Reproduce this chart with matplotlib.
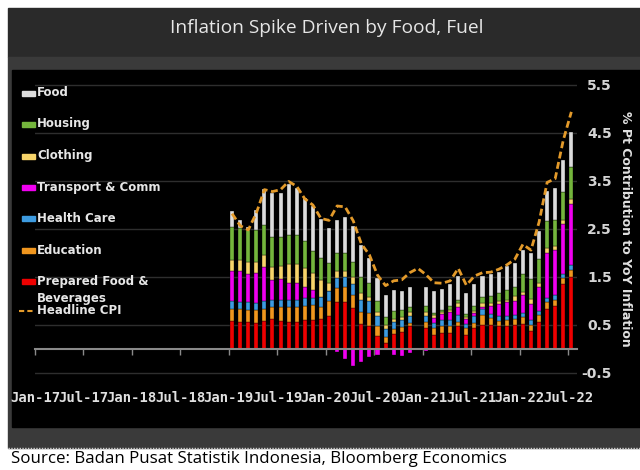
import numpy as np
import pandas as pd
import matplotlib
matplotlib.use('Agg')
import matplotlib.pyplot as plt
from matplotlib.patches import Rectangle
from matplotlib.lines import Line2D

nan = np.nan

# monthly data, Jan-19 .. Jul-22 (Dec-20 bar missing in the source)
months = pd.date_range('2019-01-01', '2022-07-01', freq='MS')

prepared = [0.58, 0.57, 0.57, 0.55, 0.58, 0.62, 0.58, 0.57, 0.57, 0.60, 0.60, 0.62,
            0.69, 0.97, 0.98, 0.85, 0.53, 0.47, 0.27, 0.13, 0.31, 0.36, 0.47, nan,
            0.43, 0.29, 0.34, 0.34, 0.47, 0.29, 0.43, 0.51, 0.50, 0.48, 0.47, 0.50,
            0.53, 0.38, 0.57, 0.83, 0.90, 1.35, 1.51]
education = [0.25, 0.26, 0.24, 0.26, 0.26, 0.26, 0.30, 0.31, 0.31, 0.30, 0.31, 0.26,
             0.30, 0.30, 0.32, 0.28, 0.24, 0.29, 0.21, 0.13, 0.10, 0.10, 0.08, nan,
             0.13, 0.14, 0.13, 0.14, 0.10, 0.14, 0.12, 0.19, 0.14, 0.11, 0.13, 0.12,
             0.13, 0.13, 0.14, 0.14, 0.13, 0.12, 0.14]
health = [0.17, 0.15, 0.17, 0.15, 0.17, 0.15, 0.15, 0.15, 0.15, 0.17, 0.15, 0.21,
          0.21, 0.21, 0.19, 0.22, 0.26, 0.23, 0.21, 0.15, 0.15, 0.14, 0.14, nan,
          0.12, 0.12, 0.13, 0.13, 0.14, 0.10, 0.13, 0.14, 0.08, 0.10, 0.08, 0.09,
          0.08, 0.10, 0.09, 0.09, 0.10, 0.10, 0.10]
transport = [0.62, 0.64, 0.59, 0.63, 0.70, 0.40, 0.42, 0.35, 0.35, 0.23, 0.16, 0.0,
             0.0, -0.06, -0.21, -0.35, -0.27, -0.16, -0.12, -0.03, -0.12, -0.15, -0.09, nan,
             -0.05, 0.09, 0.12, 0.17, 0.17, 0.10, 0.06, 0.04, 0.17, 0.25, 0.29, 0.28,
             0.38, 0.32, 0.49, 0.95, 0.94, 1.04, 1.28]
clothing = [0.24, 0.24, 0.24, 0.23, 0.24, 0.28, 0.28, 0.39, 0.39, 0.38, 0.36, 0.35,
            0.17, 0.14, 0.14, 0.16, 0.13, 0.10, 0.09, 0.09, 0.07, 0.07, 0.09, nan,
            0.10, 0.07, 0.05, 0.04, 0.07, 0.04, 0.05, 0.07, 0.07, 0.07, 0.06, 0.12,
            0.07, 0.12, 0.08, 0.09, 0.07, 0.08, 0.10]
housing = [0.68, 0.66, 0.66, 0.66, 0.63, 0.63, 0.61, 0.60, 0.60, 0.56, 0.46, 0.45,
           0.42, 0.38, 0.38, 0.31, 0.33, 0.28, 0.21, 0.17, 0.16, 0.14, 0.10, nan,
           0.12, 0.04, 0.04, 0.07, 0.07, 0.06, 0.10, 0.14, 0.14, 0.15, 0.19, 0.19,
           0.38, 0.40, 0.50, 0.56, 0.54, 0.58, 0.66]
food = [0.33, 0.17, 0.07, 0.42, 0.75, 0.90, 0.92, 1.06, 0.99, 0.90, 0.93, 0.81,
        0.73, 0.69, 0.75, 0.74, 0.67, 0.52, 0.49, 0.45, 0.44, 0.40, 0.42, nan,
        0.39, 0.45, 0.43, 0.47, 0.50, 0.44, 0.47, 0.44, 0.47, 0.45, 0.50, 0.50,
        0.49, 0.54, 0.58, 0.64, 0.67, 0.66, 0.73]
cpi = [2.82, 2.57, 2.48, 2.83, 3.32, 3.28, 3.32, 3.49, 3.39, 3.13, 3.00, 2.72,
       2.68, 2.98, 2.96, 2.67, 2.19, 1.96, 1.54, 1.32, 1.42, 1.44, 1.59, 1.68,
       1.55, 1.38, 1.37, 1.42, 1.68, 1.33, 1.52, 1.59, 1.60, 1.66, 1.75, 1.87,
       2.18, 2.06, 2.64, 3.47, 3.55, 4.35, 4.94]

# bottom to top
series = [
    ('Prepared Food &\nBeverages', prepared, '#ee0000'),
    ('Education', education, '#f0961e'),
    ('Health Care', health, '#3d9be0'),
    ('Transport & Comm', transport, '#f000f0'),
    ('Clothing', clothing, '#f7d46a'),
    ('Housing', housing, '#74b53c'),
    ('Food', food, '#dcdcdc'),
]
cpi_color = '#e39a2a'

tick_dates = pd.date_range('2017-01-01', '2022-07-01', freq='6MS')
tick_labels = [d.strftime('%b-%y') for d in tick_dates]
y_ticks = [-0.5, 0.5, 1.5, 2.5, 3.5, 4.5, 5.5]

W, H = 640, 470
def fx(x):
    return x / W
def fy(y):
    return 1 - y / H

fig = plt.figure(figsize=(6.4, 4.7), dpi=100, facecolor='white')

# frame / panels
fig.add_artist(Rectangle((fx(8), fy(57)), fx(632), 49 / H, transform=fig.transFigure,
                         color='#2a2a2a', zorder=0))
fig.add_artist(Rectangle((fx(8), fy(448)), fx(632), 391 / H, transform=fig.transFigure,
                         color='#3a3a3a', zorder=0))
fig.add_artist(Rectangle((fx(12), fy(427)), fx(628), 357 / H, transform=fig.transFigure,
                         color='black', zorder=0))
fig.add_artist(Line2D([fx(8), 1], [fy(448), fy(448)], transform=fig.transFigure,
                      color='#cfcfcf', lw=1, ls=(0, (1, 1)), zorder=1))

fig.text(fx(327), fy(28), 'Inflation Spike Driven by Food, Fuel', ha='center', va='center',
         color='#e6e6e6', fontsize=13.8, family='Open Sans')
fig.text(fx(11), fy(459), 'Source: Badan Pusat Statistik Indonesia, Bloomberg Economics',
         ha='left', va='center', color='black', fontsize=12.2, family='Open Sans')

# axes: 0 at y=349px, 48px per unit; Jan-17 at x=35px, 8.08px per month
ax = fig.add_axes([fx(35), fy(377.8), 542 / W, 297.6 / H])
ax.set_facecolor('none')

x = np.array([(d.year - 2017) * 12 + d.month - 1 for d in months]) + 0.4
pos_bottom = np.zeros(len(months))
neg_bottom = np.zeros(len(months))
for name, vals, col in series:
    v = np.array(vals, dtype=float)
    b = np.where(v >= 0, pos_bottom, neg_bottom)
    ax.bar(x, v, bottom=b, width=0.5, color=col, edgecolor='black', linewidth=0.25, zorder=3)
    pos_bottom = pos_bottom + np.where(v > 0, np.nan_to_num(v), 0)
    neg_bottom = neg_bottom + np.where(v < 0, np.nan_to_num(v), 0)

ax.plot(x, cpi, color=cpi_color, lw=2, dashes=(2.5, 1.3), zorder=4)

ax.set_xlim(0, 67.1)
ax.set_ylim(-0.6, 5.6)
for s in ['top', 'left', 'right']:
    ax.spines[s].set_visible(False)
ax.spines['bottom'].set_position(('data', 0))
ax.spines['bottom'].set_color('#8a8a8a')
ax.spines['bottom'].set_linewidth(1.5)
ax.spines['bottom'].set_zorder(5)

ax.set_xticks([(d.year - 2017) * 12 + d.month - 1 for d in tick_dates])
ax.set_xticklabels(tick_labels, family='DejaVu Sans Mono', fontweight='bold', fontsize=10,
                   color='#e0e0e0')
ax.tick_params(axis='x', direction='out', length=4, color='#8a8a8a', width=1, pad=26)

ax.yaxis.tick_right()
ax.set_yticks(y_ticks)
ax.set_yticklabels(['%.1f' % t for t in y_ticks], fontweight='bold', fontsize=10,
                   color='#d4d4d4', ha='right')
ax.tick_params(axis='y', length=0, pad=25)
ax.grid(axis='y', color='#2e2e2e', lw=1)
ax.set_axisbelow(True)

fig.text(fx(625), fy(229), '% Pt Contribution to YoY Inflation', rotation=270,
         ha='center', va='center', color='#e0e0e0', fontsize=9, fontweight='bold')

# legend, drawn by hand
leg_y = [93, 124, 156, 187, 218, 250, 281]
for (name, vals, col), yy in zip(series[::-1], leg_y):
    fig.add_artist(Rectangle((fx(22), fy(yy + 2.5)), 13 / W, 5 / H, transform=fig.transFigure,
                             color=col, zorder=2))
    for k, line in enumerate(name.split('\n')):
        fig.text(fx(37), fy(yy + 17.6 * k), line, ha='left', va='center', color='#e6e6e6',
                 fontsize=8.5, fontweight='bold')
fig.add_artist(Line2D([fx(19), fx(35)], [fy(311), fy(311)], transform=fig.transFigure,
                      color=cpi_color, lw=1.5, dashes=(2.5, 1.5)))
fig.text(fx(37), fy(311), 'Headline CPI', ha='left', va='center', color='#e6e6e6',
         fontsize=8.5, fontweight='bold')

fig.savefig('out.png', dpi=100, facecolor=fig.get_facecolor())
